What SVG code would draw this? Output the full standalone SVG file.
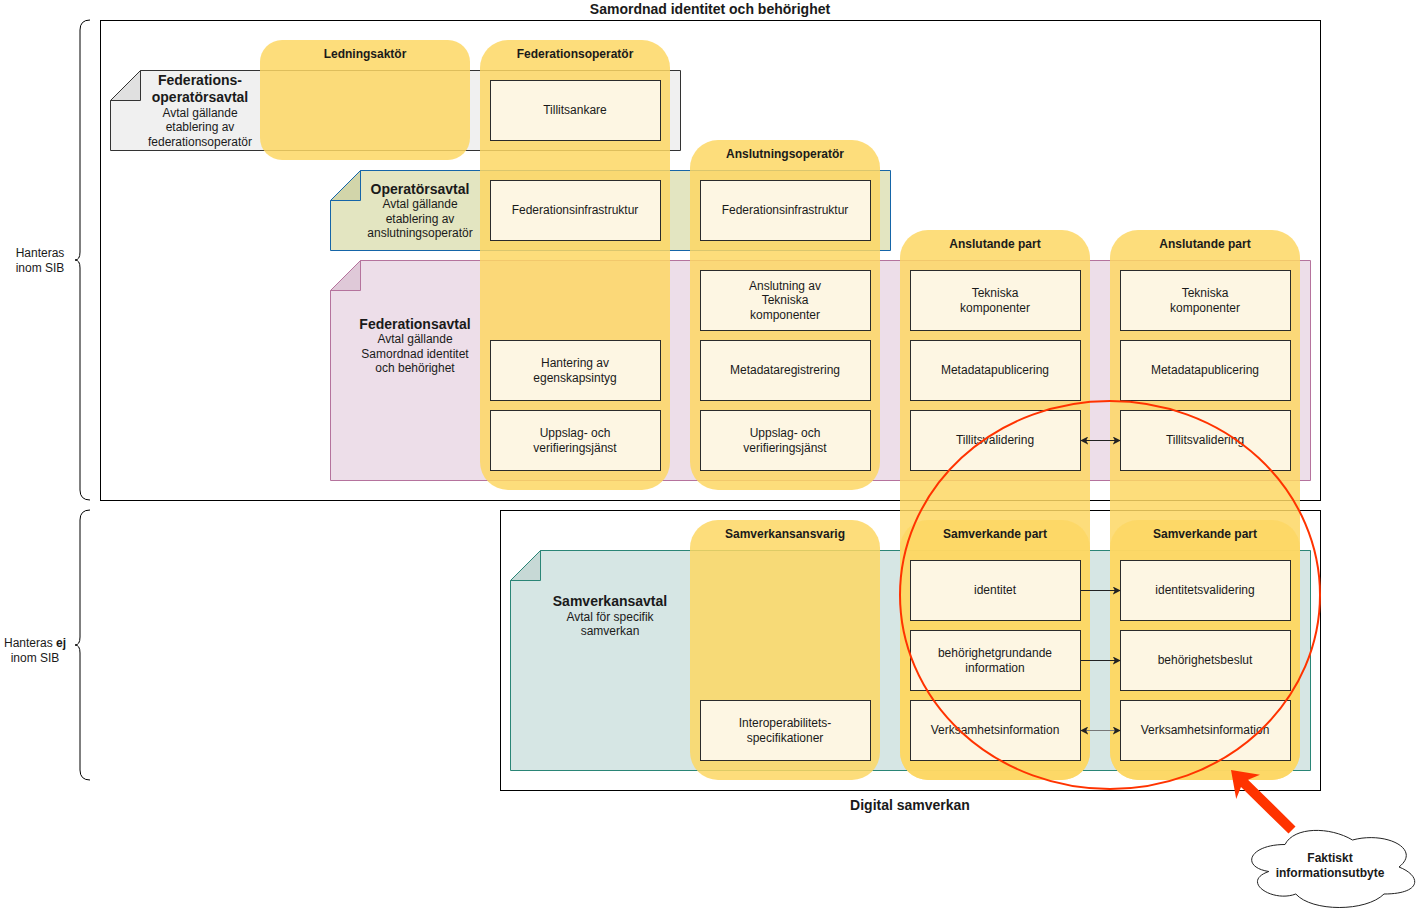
<svg xmlns="http://www.w3.org/2000/svg" width="1421" height="911" viewBox="0 0 1421 911">
<defs>
<style>
text{font-family:"Liberation Sans",Arial,sans-serif;font-size:12px;fill:#1a1a1a;text-anchor:middle}
.b{font-weight:bold}
.t14{font-size:14px;font-weight:bold}
.ctr{fill:#fff;stroke:#000;stroke-width:1}
.lane{fill:#FDD764;opacity:0.85}
.box{fill:#FDF6E3;stroke:#2b2b2b;stroke-width:1}
.brace{fill:none;stroke:#000;stroke-width:1}
.con{stroke:#222;stroke-width:1;fill:none}
</style>
<marker id="ah" viewBox="0 0 10 10" refX="9" refY="5" markerWidth="8" markerHeight="8" orient="auto-start-reverse" markerUnits="userSpaceOnUse">
<path d="M0,0 L10,5 L0,10 L2.5,5 z" fill="#222"/>
</marker>
</defs>

<g id="containers">
<rect class="ctr" x="100.5" y="20.5" width="1220" height="480"/>
<text class="b" x="710" y="14" style="font-size:14px">Samordnad identitet och behörighet</text>
<rect class="ctr" x="500.5" y="510.5" width="820" height="280"/>
<text class="b" x="910" y="810" style="font-size:14px">Digital samverkan</text>
</g>

<g id="braces">
<path class="brace" d="M90,20 Q80,20 80,30 L80,252 Q80,260 75,260 Q80,260 80,268 L80,490 Q80,500 90,500"/>
<text x="40" y="257">Hanteras</text>
<text x="40" y="272">inom SIB</text>
<path class="brace" d="M90,510 Q80,510 80,520 L80,637 Q80,645 75,645 Q80,645 80,653 L80,770 Q80,780 90,780"/>
<text x="35" y="647">Hanteras <tspan class="b">ej</tspan></text>
<text x="35" y="662">inom SIB</text>
</g>

<g id="note-federationsoperatorsavtal">
<path d="M140.5,70.5 H680.5 V150.5 H110.5 V100.5 Z" fill="#F0F0F0" stroke="#333"/>
<path d="M110.5,100.5 L140.5,70.5 V100.5 Z" fill="#E0E0E0" stroke="#333"/>
<text class="t14" x="200" y="85">Federations-</text>
<text class="t14" x="200" y="102">operatörsavtal</text>
<text x="200" y="117">Avtal gällande</text>
<text x="200" y="131">etablering av</text>
<text x="200" y="146">federationsoperatör</text>
</g>

<g id="note-operatorsavtal">
<path d="M360.5,170.5 H890.5 V250.5 H330.5 V200.5 Z" fill="#E3E5C1" stroke="#1565A8"/>
<path d="M330.5,200.5 L360.5,170.5 V200.5 Z" fill="#D2D5AA" stroke="#1565A8"/>
<text class="t14" x="420" y="194">Operatörsavtal</text>
<text x="420" y="208">Avtal gällande</text>
<text x="420" y="223">etablering av</text>
<text x="420" y="237">anslutningsoperatör</text>
</g>

<g id="note-federationsavtal">
<path d="M360.5,260.5 H1310.5 V480.5 H330.5 V290.5 Z" fill="#EDDEE9" stroke="#B5739D"/>
<path d="M330.5,290.5 L360.5,260.5 V290.5 Z" fill="#DFC9D8" stroke="#B5739D"/>
<text class="t14" x="415" y="329">Federationsavtal</text>
<text x="415" y="343">Avtal gällande</text>
<text x="415" y="358">Samordnad identitet</text>
<text x="415" y="372">och behörighet</text>
</g>

<g id="note-samverkansavtal">
<path d="M540.5,550.5 H1310.5 V770.5 H510.5 V580.5 Z" fill="#D6E6E4" stroke="#2A8576"/>
<path d="M510.5,580.5 L540.5,550.5 V580.5 Z" fill="#C7D9D6" stroke="#2A8576"/>
<text class="t14" x="610" y="606">Samverkansavtal</text>
<text x="610" y="621">Avtal för specifik</text>
<text x="610" y="635">samverkan</text>
</g>

<g id="lane-ledningsaktor">
<rect class="lane" x="260" y="40" width="210" height="120" rx="22"/>
<text class="b" x="365" y="58">Ledningsaktör</text>
</g>
<g id="lane-federationsoperator">
<rect class="lane" x="480" y="40" width="190" height="450" rx="28"/>
<text class="b" x="575" y="58">Federationsoperatör</text>
</g>
<g id="lane-anslutningsoperator">
<rect class="lane" x="690" y="140" width="190" height="350" rx="28"/>
<text class="b" x="785" y="158">Anslutningsoperatör</text>
</g>
<g id="lane-anslutande-part-1">
<rect class="lane" x="900" y="230" width="190" height="550" rx="28"/>
<text class="b" x="995" y="248">Anslutande part</text>
</g>
<g id="lane-anslutande-part-2">
<rect class="lane" x="1110" y="230" width="190" height="550" rx="28"/>
<text class="b" x="1205" y="248">Anslutande part</text>
</g>
<g id="lane-samverkansansvarig">
<rect class="lane" x="690" y="520" width="190" height="260" rx="28"/>
<text class="b" x="785" y="538">Samverkansansvarig</text>
</g>
<g id="lane-samverkande-part-1">
<rect class="lane" x="900" y="520" width="190" height="260" rx="28"/>
<text class="b" x="995" y="538">Samverkande part</text>
</g>
<g id="lane-samverkande-part-2">
<rect class="lane" x="1110" y="520" width="190" height="260" rx="28"/>
<text class="b" x="1205" y="538">Samverkande part</text>
</g>

<g id="fo-tillitsankare"><rect class="box" x="490.5" y="80.5" width="170" height="60"/><text x="575" y="114">Tillitsankare</text></g>
<g id="fo-federationsinfrastruktur"><rect class="box" x="490.5" y="180.5" width="170" height="60"/><text x="575" y="214">Federationsinfrastruktur</text></g>
<g id="fo-hantering"><rect class="box" x="490.5" y="340.5" width="170" height="60"/><text x="575" y="367">Hantering av</text><text x="575" y="382">egenskapsintyg</text></g>
<g id="fo-uppslag"><rect class="box" x="490.5" y="410.5" width="170" height="60"/><text x="575" y="437">Uppslag- och</text><text x="575" y="452">verifieringsjänst</text></g>

<g id="ao-federationsinfrastruktur"><rect class="box" x="700.5" y="180.5" width="170" height="60"/><text x="785" y="214">Federationsinfrastruktur</text></g>
<g id="ao-anslutning"><rect class="box" x="700.5" y="270.5" width="170" height="60"/><text x="785" y="290">Anslutning av</text><text x="785" y="304">Tekniska</text><text x="785" y="319">komponenter</text></g>
<g id="ao-metadataregistrering"><rect class="box" x="700.5" y="340.5" width="170" height="60"/><text x="785" y="374">Metadataregistrering</text></g>
<g id="ao-uppslag"><rect class="box" x="700.5" y="410.5" width="170" height="60"/><text x="785" y="437">Uppslag- och</text><text x="785" y="452">verifieringsjänst</text></g>
<g id="sa-interop"><rect class="box" x="700.5" y="700.5" width="170" height="60"/><text x="785" y="727">Interoperabilitets-</text><text x="785" y="742">specifikationer</text></g>

<g id="ap1-tekniska"><rect class="box" x="910.5" y="270.5" width="170" height="60"/><text x="995" y="297">Tekniska</text><text x="995" y="312">komponenter</text></g>
<g id="ap1-metadatapublicering"><rect class="box" x="910.5" y="340.5" width="170" height="60"/><text x="995" y="374">Metadatapublicering</text></g>
<g id="ap1-tillitsvalidering"><rect class="box" x="910.5" y="410.5" width="170" height="60"/><text x="995" y="444">Tillitsvalidering</text></g>
<g id="sp1-identitet"><rect class="box" x="910.5" y="560.5" width="170" height="60"/><text x="995" y="594">identitet</text></g>
<g id="sp1-behorighetgrundande"><rect class="box" x="910.5" y="630.5" width="170" height="60"/><text x="995" y="657">behörighetgrundande</text><text x="995" y="672">information</text></g>
<g id="sp1-verksamhetsinformation"><rect class="box" x="910.5" y="700.5" width="170" height="60"/><text x="995" y="734">Verksamhetsinformation</text></g>

<g id="ap2-tekniska"><rect class="box" x="1120.5" y="270.5" width="170" height="60"/><text x="1205" y="297">Tekniska</text><text x="1205" y="312">komponenter</text></g>
<g id="ap2-metadatapublicering"><rect class="box" x="1120.5" y="340.5" width="170" height="60"/><text x="1205" y="374">Metadatapublicering</text></g>
<g id="ap2-tillitsvalidering"><rect class="box" x="1120.5" y="410.5" width="170" height="60"/><text x="1205" y="444">Tillitsvalidering</text></g>
<g id="sp2-identitetsvalidering"><rect class="box" x="1120.5" y="560.5" width="170" height="60"/><text x="1205" y="594">identitetsvalidering</text></g>
<g id="sp2-behorighetsbeslut"><rect class="box" x="1120.5" y="630.5" width="170" height="60"/><text x="1205" y="664">behörighetsbeslut</text></g>
<g id="sp2-verksamhetsinformation"><rect class="box" x="1120.5" y="700.5" width="170" height="60"/><text x="1205" y="734">Verksamhetsinformation</text></g>

<g id="connectors">
<line class="con" x1="1081" y1="440.5" x2="1120" y2="440.5" marker-start="url(#ah)" marker-end="url(#ah)"/>
<line class="con" x1="1081" y1="590.5" x2="1120" y2="590.5" marker-end="url(#ah)"/>
<line class="con" x1="1081" y1="660.5" x2="1120" y2="660.5" marker-end="url(#ah)"/>
<line class="con" x1="1081" y1="730.5" x2="1120" y2="730.5" style="stroke:#777" marker-start="url(#ah)" marker-end="url(#ah)"/>
</g>

<g id="highlight">
<ellipse cx="1110" cy="595" rx="210" ry="194" fill="none" stroke="#FF3300" stroke-width="2"/>
<polygon points="1231,770 1260,774.7 1248,779.7 1295.5,826.4 1288.5,833.6 1241,786.9 1236.2,798.9" fill="#FF3300"/>
</g>

<g id="cloud">
<path d="M1285,844.5 C1249,844.5 1240,867 1268.8,871.5 C1240,881.4 1272.4,903 1295.8,894 C1312,912 1366,912 1384,894 C1422,894 1422,876 1399,867 C1422,849 1386,831 1352.5,840 C1330,826.5 1294,826.5 1285,844.5 Z" fill="#fff" stroke="#222" stroke-width="1"/>
<text class="b" x="1330" y="862">Faktiskt</text>
<text class="b" x="1330" y="877">informationsutbyte</text>
</g>
</svg>
